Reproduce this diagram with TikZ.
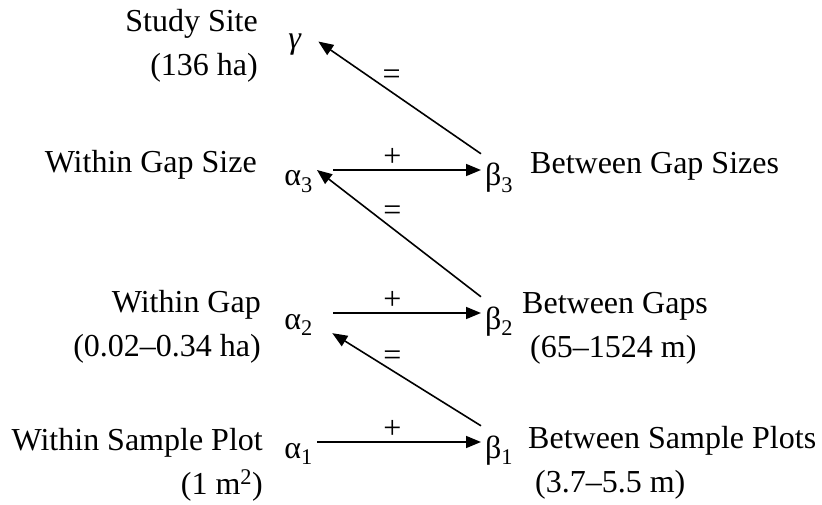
\documentclass[tikz,border=0pt]{standalone}
\usepackage{fontspec}
\setmainfont{Liberation Serif}
\usetikzlibrary{positioning,arrows.meta}

\begin{document}
\begin{tikzpicture}[
    x=1pt, y=-1pt,
    every node/.style={font=\fontsize{32}{44}\selectfont, inner sep=0pt},
    greek/.style={text height=32pt, text depth=0pt, inner xsep=4pt, inner ysep=0pt},
    lab/.style={anchor=base east, align=right},
    rlab/.style={anchor=base west, align=left},
    link/.style={-{Triangle[length=15pt, width=12pt]}, line width=1.6pt},
    sign/.style={inner sep=0pt}
  ]
  \useasboundingbox (0,0) rectangle (822,505);

  % ---------- diversity components -------------
  \node[greek, anchor=base east] (g)  at (306,49)  {\textit{γ}};
  \node[greek, anchor=base east] (a3) at (317,186) {α\textsubscript{3}};
  \node[greek, anchor=base east] (a2) at (317,329) {α\textsubscript{2}};
  \node[greek, anchor=base east] (a1) at (317,458) {α\textsubscript{1}};
  \node[greek, anchor=base west] (b3) at (481,186) {β\textsubscript{3}};
  \node[greek, anchor=base west] (b2) at (481,329) {β\textsubscript{2}};
  \node[greek, anchor=base west] (b1) at (481,458) {β\textsubscript{1}};

  % ---------- scale labels (base = last line) -------------
  \node[lab] (site)  at (258,76)  {Study Site\\(136 ha)};
  \node[lab] (gsize) at (257,173) {Within Gap Size};
  \node[lab] (gap)   at (261,356) {Within Gap\\(0.02–0.34 ha)};
  \node[lab] (plot)  at (263,494) {Within Sample Plot\\(1 m\textsuperscript{2})};
  \node[rlab] (bsizes) at (530,174) {Between Gap Sizes};
  \node[rlab] (bgaps)  at (522,357) {Between Gaps\\\hspace{8pt}(65–1524 m)};
  \node[rlab] (bplots) at (528,492) {Between Sample Plots\\\hspace{7pt}(3.7–5.5 m)};

  % ---------- alpha + beta -------------
  \draw[link, shorten <=16pt] (a3.east) -- (b3.west)
    node[sign, pos=0.46, yshift=13pt] (p3) {+};
  \draw[link, shorten <=16pt] (a2.east) -- (b2.west)
    node[sign, pos=0.46, yshift=13pt] (p2) {+};
  \draw[link] (a1.east) -- (b1.west)
    node[sign, pos=0.46, yshift=13pt] (p1) {+};

  % ---------- = next level -------------
  \draw[link, shorten >=15pt] (b3.north west) -- (g.east)
    node[sign, pos=0.51, yshift=15pt] (e3) {=};
  \draw[link] (b2.north west) -- (a3.east)
    node[sign, pos=0.54, yshift=15pt] (e2) {=};
  \draw[link, shorten >=18pt] (b1.north west) -- (a2.-30)
    node[sign, pos=0.54, yshift=12pt] (e1) {=};

\end{tikzpicture}
\end{document}
